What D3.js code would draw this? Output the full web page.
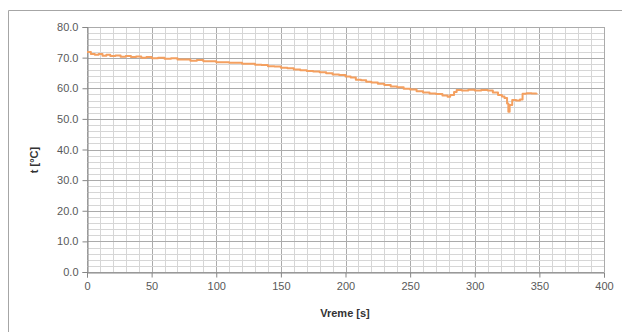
<!DOCTYPE html>
<html>
<head>
<meta charset="utf-8">
<script src="https://cdn.jsdelivr.net/npm/d3@7"></script>
<style>
body { margin: 0; background: #fff; }
text { font-family: "Liberation Sans", Arial, sans-serif; }
</style>
</head>
<body>
<svg width="622" height="332"></svg>
<script>
// time [s] and temperature [°C]
var times = [0, 3, 6, 9, 12, 15, 18, 22, 26, 30, 34, 38, 42, 46, 50, 55, 60, 65, 70, 75,
    80, 85, 90, 95, 100, 105, 110, 115, 120, 125, 130, 135, 140, 145, 150, 155, 160, 165, 170, 175,
    180, 185, 190, 195, 200, 204, 208, 212, 216, 220, 225, 230, 235, 240, 245, 250, 255, 260, 265, 270,
    275, 279, 281, 284, 286, 290, 295, 300, 305, 310, 314, 318, 321, 323, 325, 326, 327, 329, 332, 335,
    337, 340, 344, 348];
var temps = [71.8, 71.2, 70.9, 71.2, 70.6, 70.9, 70.5, 70.7, 70.3, 70.5, 70.2, 70.4, 70.0, 70.2, 69.8, 70.0, 69.6, 69.8, 69.4, 69.4,
    69.0, 69.2, 68.8, 68.8, 68.5, 68.5, 68.3, 68.3, 68.0, 68.0, 67.7, 67.6, 67.2, 67.1, 66.7, 66.5, 66.1, 65.9, 65.6, 65.5,
    65.2, 64.9, 64.5, 64.3, 63.8, 63.5, 62.8, 62.6, 62.1, 61.9, 61.5, 61.1, 60.6, 60.3, 59.8, 59.6, 59.0, 58.6, 58.3, 58.1,
    57.6, 57.2, 57.8, 58.8, 59.4, 59.3, 59.5, 59.3, 59.4, 59.3, 58.6, 57.8, 57.3, 56.8, 55.0, 52.3, 54.5, 56.2, 56.0, 56.3,
    58.2, 58.4, 58.3, 58.4];
var xTicks = [0, 50, 100, 150, 200, 250, 300, 350, 400];
var yTicks = [0, 10, 20, 30, 40, 50, 60, 70, 80];

var svg = d3.select("svg");
var x = d3.scaleLinear().domain([0, 400]).range([87, 604]);
var y = d3.scaleLinear().domain([0, 80]).range([272, 27]);

// outer frame (only top and left edges fall inside the picture)
svg.append("path").attr("d", "M8.5,332V10.5H622").attr("fill", "none").attr("stroke", "#a6a6a6");

var g = svg.append("g");
// grid: minor every 10 s / 2 °C, major every 50 s / 10 °C
g.selectAll(".vmin").data(d3.range(0, 401, 10)).enter().append("line")
    .attr("x1", function (d) { return Math.round(x(d)) + 0.5; })
    .attr("x2", function (d) { return Math.round(x(d)) + 0.5; })
    .attr("y1", y(0)).attr("y2", y(80))
    .attr("stroke", function (d) { return d % 50 === 0 ? "#ababab" : "#d6d6d6"; });
g.selectAll(".hmin").data(d3.range(0, 81, 2)).enter().append("line")
    .attr("y1", function (d) { return Math.round(y(d)) + 0.5; })
    .attr("y2", function (d) { return Math.round(y(d)) + 0.5; })
    .attr("x1", x(0)).attr("x2", x(400))
    .attr("stroke", function (d) { return d % 10 === 0 ? "#ababab" : "#d6d6d6"; });

var xAxis = svg.append("g").attr("transform", "translate(0," + (Math.round(y(0)) + 0.5) + ")")
    .call(d3.axisBottom(x).tickValues(xTicks).tickSize(5).tickPadding(5).tickFormat(d3.format("d")));
var yAxis = svg.append("g").attr("transform", "translate(" + (Math.round(x(0)) + 0.5) + ",0)")
    .call(d3.axisLeft(y).tickValues(yTicks).tickSize(5).tickPadding(4).tickFormat(d3.format(".1f")));
[xAxis, yAxis].forEach(function (a) {
    a.select(".domain").attr("stroke", "#868686");
    a.selectAll(".tick line").attr("stroke", "#868686");
    a.selectAll("text").attr("fill", "#595959").style("font-size", "11px")
        .style("font-family", "Liberation Sans, Arial, sans-serif");
});

var line = d3.line().curve(d3.curveStepAfter)
    .x(function (d, i) { return x(times[i]); }).y(function (d) { return y(d); });
svg.append("path").datum(temps).attr("d", line).attr("fill", "none")
    .attr("stroke", "#f4a060").attr("stroke-width", 2).attr("stroke-linejoin", "round");

svg.append("text").attr("x", 345).attr("y", 317).attr("text-anchor", "middle")
    .attr("font-size", "11px").attr("font-weight", "bold").attr("fill", "#333").text("Vreme [s]");
svg.append("text").attr("transform", "translate(38,160) rotate(-90)").attr("text-anchor", "middle")
    .attr("font-size", "11px").attr("font-weight", "bold").attr("fill", "#333").text("t [°C]");
</script>
</body>
</html>
